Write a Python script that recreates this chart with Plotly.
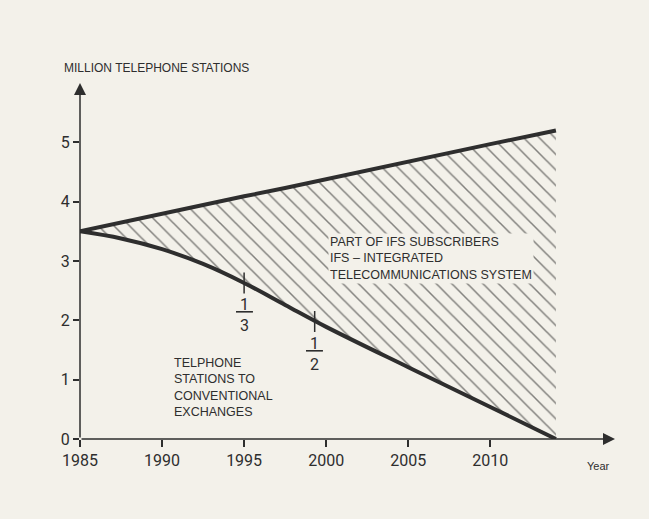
import plotly.graph_objects as go

years = [1985, 1987.5, 1990, 1992.5, 1995, 1997.5, 2000, 2005, 2010, 2014]
conventional = [3.5, 3.38, 3.2, 2.95, 2.63, 2.26, 1.89, 1.21, 0.54, 0.0]
total = [3.5, 3.65, 3.79, 3.94, 4.09, 4.23, 4.38, 4.67, 4.97, 5.2]

share_years = [1995, 1999.3]
share_values = [2.63, 1.98]
share_labels = ["<u>&nbsp;1&nbsp;</u><br>3", "<u>&nbsp;1&nbsp;</u><br>2"]

x_ticks = [1985, 1990, 1995, 2000, 2005, 2010]
y_ticks = [0, 1, 2, 3, 4, 5]

BG = "#f3f1ea"
INK = "#2e2e2e"

fig = go.Figure()
fig.add_trace(go.Scatter(x=years, y=conventional, mode="lines",
                         line=dict(color=INK, width=4, shape="spline", smoothing=1.0),
                         hoverinfo="skip", showlegend=False))
fig.add_trace(go.Scatter(x=years, y=total, mode="lines", fill="tonexty",
                         fillcolor="rgba(0,0,0,0)",
                         fillpattern=dict(shape="\\", fgcolor="#111111", bgcolor="rgba(0,0,0,0)",
                                          size=11, solidity=0.14),
                         line=dict(color=INK, width=4),
                         hoverinfo="skip", showlegend=False))
fig.add_trace(go.Scatter(x=share_years, y=share_values, mode="markers",
                         marker=dict(symbol="line-ns", size=15, line=dict(color=INK, width=1.5)),
                         hoverinfo="skip", showlegend=False))

for xv, yv, lab in zip(share_years, share_values, share_labels):
    fig.add_annotation(x=xv, y=yv, text=lab, showarrow=False, yanchor="top", yshift=-10,
                       font=dict(family="Roboto", size=16, color=INK), align="center")

# axis arrows
fig.add_annotation(x=1985, y=6.0, ax=1985, ay=0, xref="x", yref="y", axref="x", ayref="y",
                   showarrow=True, arrowhead=2, arrowsize=1.6, arrowwidth=1.5, arrowcolor=INK, text="")
fig.add_annotation(x=2017.6, y=0, ax=1985, ay=0, xref="x", yref="y", axref="x", ayref="y",
                   showarrow=True, arrowhead=2, arrowsize=1.6, arrowwidth=1.5, arrowcolor=INK, text="")

fig.add_annotation(x=-0.034, y=1.0, xref="paper", yref="paper", xanchor="left", yanchor="middle",
                   yshift=15,
                   text="MILLION TELEPHONE STATIONS", showarrow=False,
                   font=dict(family="Liberation Sans", size=12, color=INK))
fig.add_annotation(x=2000.1, y=3.05, xref="x", yref="y", xanchor="left", yanchor="middle",
                   text="PART OF IFS SUBSCRIBERS<br>IFS – INTEGRATED<br>TELECOMMUNICATIONS SYSTEM",
                   showarrow=False, align="left", bgcolor=BG, borderpad=1,
                   font=dict(family="Liberation Sans", size=12.5, color=INK))
fig.add_annotation(x=1990.6, y=0.86, xref="x", yref="y", xanchor="left", yanchor="middle",
                   text="TELPHONE<br>STATIONS TO<br>CONVENTIONAL<br>EXCHANGES",
                   showarrow=False, align="left",
                   font=dict(family="Liberation Sans", size=12.5, color=INK))
fig.add_annotation(x=2016.6, y=0, xref="x", yref="y", yanchor="top", yshift=-19,
                   text="Year", showarrow=False,
                   font=dict(family="Liberation Sans", size=11, color=INK))

fig.update_layout(
    width=649, height=519,
    paper_bgcolor=BG, plot_bgcolor=BG,
    margin=dict(l=80, r=34, t=83, b=80),
    xaxis=dict(range=[1985, 2017.6], tickvals=x_ticks, ticks="outside", ticklen=7,
               tickwidth=1.5, tickcolor=INK, showgrid=False, zeroline=False, showline=False,
               tickfont=dict(family="Roboto", size=16, color=INK)),
    yaxis=dict(range=[0, 6.0], tickvals=y_ticks, ticks="outside", ticklen=6,
               tickwidth=1.5, tickcolor=INK, showgrid=False, zeroline=False, showline=False,
               tickfont=dict(family="Roboto", size=16, color=INK)),
)

fig.write_html("out.html", config={"displayModeBar": False},
               post_script="document.body.style.margin='0';document.body.style.background='%s';" % BG)
